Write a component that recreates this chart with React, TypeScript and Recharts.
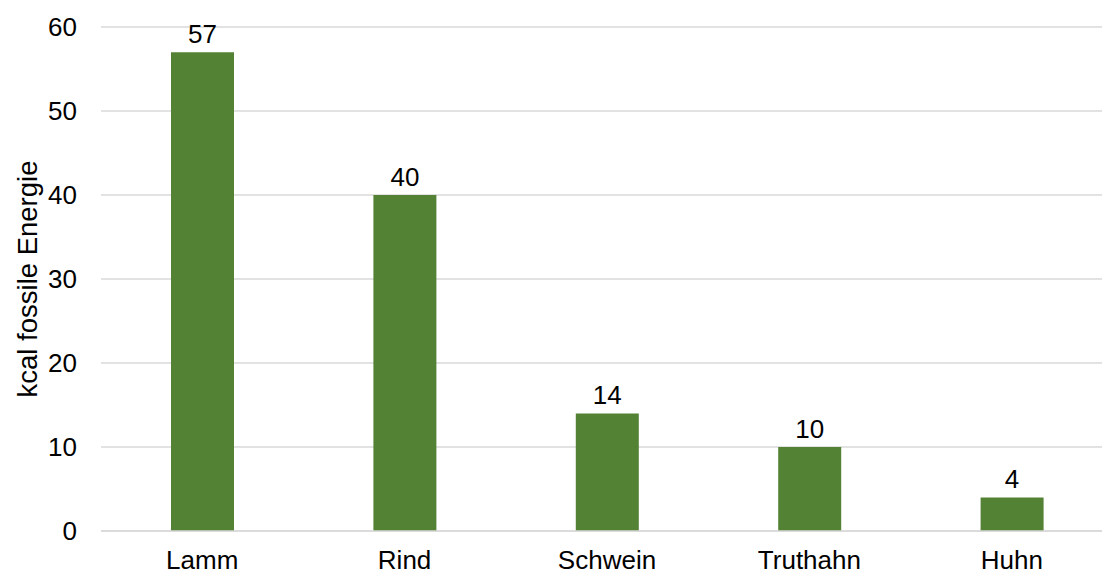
import React from 'react';
import { Bar, BarChart, CartesianGrid, LabelList, XAxis, YAxis } from 'recharts';

const animals = ['Lamm', 'Rind', 'Schwein', 'Truthahn', 'Huhn'];
const kcalValues = [57, 40, 14, 10, 4];
const yTicks = [0, 10, 20, 30, 40, 50, 60];

const data = animals.map((name, i) => ({ name, value: kcalValues[i] }));

const FONT = '"Liberation Sans", Arial, sans-serif';
const BAR_COLOR = '#548235';
const GRID_COLOR = '#d9d9d9';

export default function App() {
  return (
    <div
      style={{
        position: 'absolute',
        left: 0,
        top: 0,
        width: 1102,
        height: 572,
        overflow: 'hidden',
        background: '#fff',
        fontFamily: FONT
      }}
    >
      <BarChart
        width={1113}
        height={572}
        data={data}
        margin={{ top: 27, right: 0, left: 0, bottom: 0 }}
        barSize={63}
      >
        <CartesianGrid vertical={false} stroke={GRID_COLOR} strokeWidth={1.5} />
        <XAxis
          dataKey="name"
          height={41}
          axisLine={{ stroke: GRID_COLOR, strokeWidth: 1.5 }}
          tickLine={false}
          tickMargin={14}
          tick={{ fill: '#000', fontSize: 26, fontFamily: FONT }}
        />
        <YAxis
          width={101}
          domain={[0, 60]}
          ticks={yTicks}
          axisLine={false}
          tickLine={false}
          tickMargin={18}
          tick={{ fill: '#000', fontSize: 26, fontFamily: FONT }}
          label={{
            value: 'kcal fossile Energie',
            angle: -90,
            position: 'center',
            dx: -23,
            fill: '#000',
            fontSize: 27.5,
            fontFamily: FONT
          }}
        />
        <Bar dataKey="value" fill={BAR_COLOR} isAnimationActive={false}>
          <LabelList
            dataKey="value"
            position="top"
            offset={9}
            fill="#000"
            fontSize={26}
            fontFamily={FONT}
          />
        </Bar>
      </BarChart>
    </div>
  );
}
